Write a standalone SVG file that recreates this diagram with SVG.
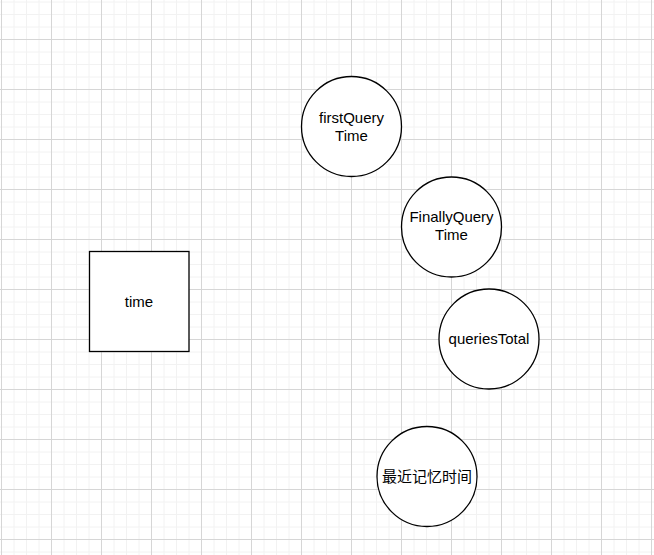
<svg xmlns="http://www.w3.org/2000/svg" width="654" height="555" viewBox="0 0 654 555">
  <defs>
    <pattern id="grid" patternUnits="userSpaceOnUse" x="0" y="-11" width="50" height="50">
      <path d="M14 0V50M26.5 0V50M39 0V50M0 13H50M0 25.5H50M0 38H50" stroke="#f2f2f2" stroke-width="1" fill="none"/>
      <path d="M1.5 0V50M0 0.5H50" stroke="#d6d6d6" stroke-width="1" fill="none"/>
    </pattern>
  </defs>
  <style>
    .shape { fill: #ffffff; stroke: #000000; stroke-width: 1.3; }
    .label { font-family: "Liberation Sans", Arial, "Noto Sans CJK SC", sans-serif; font-size: 15px; fill: #000000; text-anchor: middle; }
  </style>
  <rect x="0" y="0" width="654" height="555" fill="#ffffff"/>
  <rect x="0" y="0" width="654" height="555" fill="url(#grid)"/>
  <g id="connectors"></g>
  <g id="node-time">
    <rect class="shape" x="89.5" y="251.5" width="99.5" height="100"/>
    <text class="label" x="139" y="307">time</text>
  </g>
  <g id="node-firstQueryTime">
    <circle class="shape" cx="351.5" cy="126.5" r="50"/>
    <text class="label" x="351.5" y="123">firstQuery</text>
    <text class="label" x="351.5" y="141">Time</text>
  </g>
  <g id="node-FinallyQueryTime">
    <circle class="shape" cx="451.5" cy="227" r="50"/>
    <text class="label" x="451.5" y="222">FinallyQuery</text>
    <text class="label" x="451.5" y="240">Time</text>
  </g>
  <g id="node-queriesTotal">
    <circle class="shape" cx="489" cy="339" r="50"/>
    <text class="label" x="489" y="344">queriesTotal</text>
  </g>
  <g id="node-recent">
    <circle class="shape" cx="427" cy="476.5" r="50"/>
    <text class="label" x="427" y="482">最近记忆时间</text>
  </g>
</svg>
